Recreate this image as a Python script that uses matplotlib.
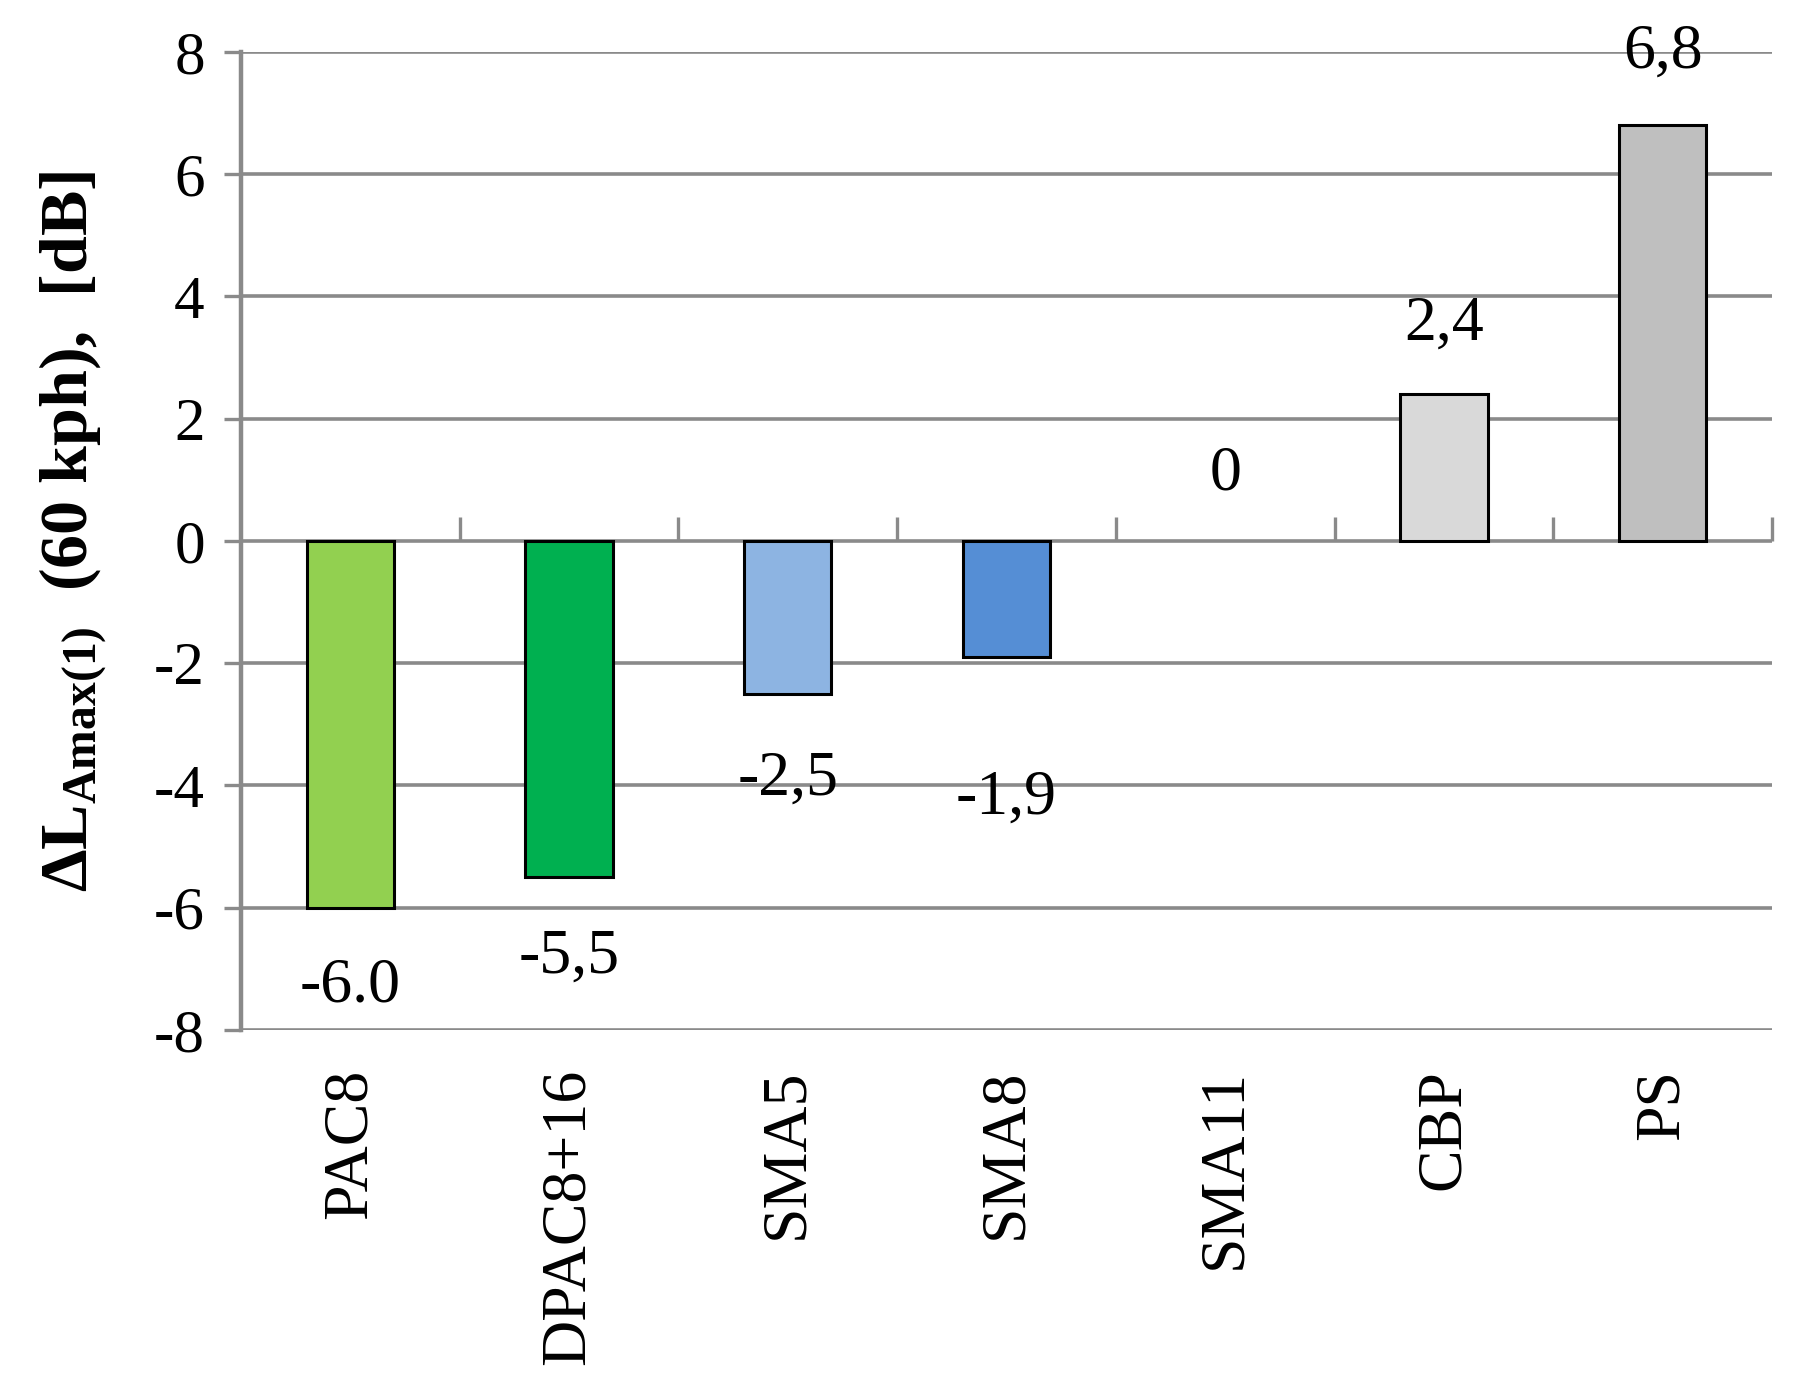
import matplotlib
matplotlib.use("Agg")
import matplotlib.pyplot as plt

categories = ["PAC8", "DPAC8+16", "SMA5", "SMA8", "SMA11", "CBP", "PS"]
values = [-6.0, -5.5, -2.5, -1.9, 0.0, 2.4, 6.8]
value_labels = ["-6.0", "-5,5", "-2,5", "-1,9", "0", "2,4", "6,8"]
yticks = [-8, -6, -4, -2, 0, 2, 4, 6, 8]

bar_colors = ["#92D050", "#00B050", "#8DB4E2", "#558ED5", "#FFFFFF", "#D9D9D9", "#BFBFBF"]
label_offsets = [57, 58, 62, 102, 48, 50, 52]  # points from bar end to label centre

plt.rcParams['font.family'] = ['Liberation Serif', 'DejaVu Serif']
plt.rcParams['mathtext.fontset'] = 'custom'
plt.rcParams['mathtext.rm'] = 'Liberation Serif'
plt.rcParams['mathtext.bf'] = 'Liberation Serif:bold'
plt.rcParams['mathtext.it'] = 'Liberation Serif:italic'

grid_c = "#8A8A8A"

fig = plt.figure(figsize=(17.98, 14), dpi=100)
ax = fig.add_axes([0.134, 0.2643, 0.8515, 0.6987])

x = list(range(len(categories)))
for xi, v, c in zip(x, values, bar_colors):
    if v != 0:
        ax.bar(xi, v, width=0.4, color=c, edgecolor="black", linewidth=2.2, zorder=3)

for xi, v, lab, off in zip(x, values, value_labels, label_offsets):
    sign = -1 if v < 0 else 1
    ax.annotate(lab, xy=(xi, v), xytext=(0, sign * off), textcoords="offset points",
                ha="center", va="center", fontsize=46, color="black", zorder=4)

ax.set_xlim(-0.5, len(categories) - 0.5)
ax.set_ylim(yticks[0], yticks[-1])
ax.set_yticks(yticks)
ax.set_yticklabels([str(t) for t in yticks])
ax.yaxis.grid(True, color=grid_c, linewidth=2.6, zorder=1)
ax.set_axisbelow(True)

for s in ["top", "right", "bottom"]:
    ax.spines[s].set_visible(False)
ax.spines["left"].set_color(grid_c)
ax.spines["left"].set_linewidth(3.2)

ax.tick_params(axis="y", direction="out", length=12, width=2.4, color=grid_c,
               pad=14, labelsize=44)

ax.set_xticks(x)
ax.set_xticklabels(categories, rotation=90, fontsize=46, va="top", ha="center")
ax.tick_params(axis="x", length=0, pad=28)

# category boundary ticks on the zero line
sec = ax.secondary_xaxis(0.5)
sec.set_xticks([i + 0.5 for i in x])
sec.set_xticklabels([])
sec.tick_params(axis="x", direction="out", length=17, width=2.4, color=grid_c)
for s in sec.spines.values():
    s.set_visible(False)

ax.set_ylabel(r"$\mathbf{\Delta L}_{\mathbf{Amax(1)}}$  (60 kph),  [dB]",
              fontsize=49, fontweight="bold")
ax.yaxis.set_label_coords(-0.086, 0.51)

fig.savefig("out.png", dpi=100, facecolor="white")
